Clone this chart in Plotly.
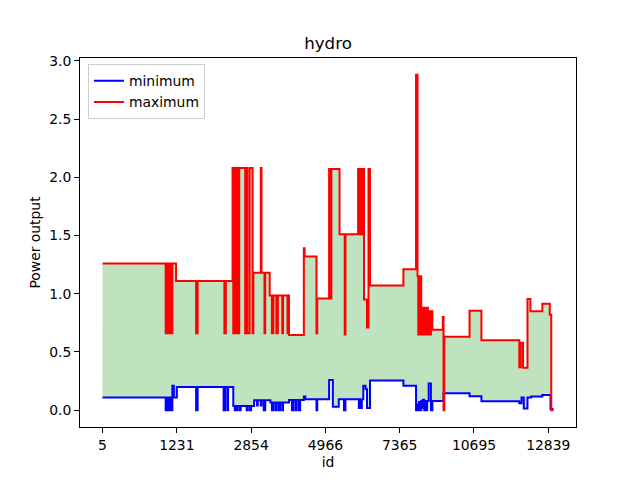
import plotly.graph_objects as go

# Row positions (index in the id-sorted table) where each step starts, and step values
max_rows = [0, 85, 86, 87, 89, 90, 92, 93, 94, 99, 126, 128, 164, 166,
            175, 176, 178, 179, 180, 182, 184, 192, 194, 195, 198, 202, 203,
            213, 214, 218, 219, 225, 228, 230, 234, 236, 242, 243, 249, 250, 251,
            271, 272, 288, 289, 305, 307, 308, 319, 326, 327,
            344, 346, 347, 349, 350, 352, 356, 358, 360, 405, 422, 424,
            425, 426, 427, 428, 429, 431, 432, 433, 435, 436, 438, 439, 441, 442, 444,
            458, 459, 460, 494, 510, 561, 563, 566, 572, 576, 592, 602, 604, 607]
max_vals = [1.26, 0.66, 1.26, 0.66, 1.26, 0.66, 1.26, 0.66, 1.26, 1.11, 0.66, 1.11, 0.66, 1.11,
            2.08, 0.66, 2.08, 0.66, 2.08, 0.66, 2.08, 0.66, 2.08, 0.66, 2.08, 0.66, 1.18,
            2.08, 1.18, 0.66, 1.18, 0.985, 0.66, 0.985, 0.66, 0.985, 0.66, 0.985, 0.66, 0.985, 0.645,
            1.39, 1.32, 0.66, 0.96, 2.07, 0.96, 2.07, 1.51, 0.65, 1.51,
            2.07, 1.51, 2.07, 1.51, 2.07, 0.95, 0.71, 2.07, 1.07, 1.21, 2.88, 1.15,
            0.65, 1.15, 0.65, 1.15, 0.65, 0.88, 0.65, 0.88, 0.65, 0.88, 0.65, 0.85, 0.65, 0.85, 0.69,
            0.80, 0.0, 0.63, 0.855, 0.60, 0.37, 0.58, 0.365, 0.955, 0.85, 0.915, 0.82, 0.0, 0.0]

min_rows = [0, 85, 86, 87, 89, 90, 92, 93, 94, 96, 100, 126, 128, 163, 165, 168, 169,
            176, 178, 179, 181, 182, 185, 186, 194, 195, 198, 200,
            204, 208, 209, 213, 214, 217, 219, 226, 228, 230, 233, 234, 237, 239, 242, 243,
            251, 255, 257, 260, 261, 264, 266, 271, 273, 288, 289, 305, 310, 318, 325, 327,
            345, 346, 348, 349, 351, 354, 356, 360, 405, 422, 423, 425, 426, 427, 429, 430,
            431, 433, 434, 435, 437, 439, 442, 444, 459, 494, 510, 561, 564, 567, 572, 577,
            592, 603, 607]
min_vals = [0.11, 0.0, 0.11, 0.0, 0.11, 0.0, 0.11, 0.0, 0.21, 0.11, 0.20, 0.0, 0.20, 0.0, 0.20, 0.0, 0.20,
            0.037, 0.0, 0.037, 0.0, 0.037, 0.0, 0.037, 0.0, 0.037, 0.0, 0.037,
            0.085, 0.04, 0.085, 0.04, 0.085, 0.0, 0.085, 0.066, 0.0, 0.066, 0.0, 0.066, 0.0, 0.066, 0.0, 0.066,
            0.088, 0.0, 0.088, 0.0, 0.088, 0.0, 0.088, 0.117, 0.095, 0.0, 0.095, 0.26, 0.03, 0.095, 0.0, 0.095,
            0.02, 0.095, 0.02, 0.095, 0.21, 0.18, 0.02, 0.255, 0.21, 0.0, 0.05, 0.0, 0.07, 0.0, 0.08, 0.02,
            0.09, 0.0, 0.08, 0.0, 0.08, 0.23, 0.0, 0.08, 0.145, 0.12, 0.077, 0.06, 0.11, 0.015, 0.11, 0.117,
            0.13, 0.01, 0.01]

tick_rows = [0, 100, 200, 300, 400, 500, 600]
tick_ids = ["5", "1231", "2854", "4966", "7365", "10695", "12839"]

FONT = "DejaVu Sans"
fig = go.Figure()

# fill between min and max
fig.add_trace(go.Scatter(x=min_rows, y=min_vals, mode="lines", line=dict(width=0, shape="hv"),
                         showlegend=False, hoverinfo="skip"))
fig.add_trace(go.Scatter(x=max_rows, y=max_vals, mode="lines", line=dict(width=0, shape="hv"),
                         fill="tonexty", fillcolor="rgba(44,160,44,0.3)",
                         showlegend=False, hoverinfo="skip"))
# lines
fig.add_trace(go.Scatter(x=min_rows, y=min_vals, mode="lines", name="minimum",
                         line=dict(color="#0000ff", width=2, shape="hv")))
fig.add_trace(go.Scatter(x=max_rows, y=max_vals, mode="lines", name="maximum",
                         line=dict(color="#ff0000", width=2, shape="hv")))

axis_common = dict(showline=True, mirror=True, linecolor="black", linewidth=1,
                   ticks="outside", ticklen=5, tickwidth=1, tickcolor="black",
                   showgrid=False, zeroline=False, automargin=False,
                   tickfont=dict(family=FONT, size=13.9, color="black"))

fig.update_layout(
    width=640, height=480,
    margin=dict(l=80, r=64, t=58, b=53),
    paper_bgcolor="white", plot_bgcolor="white",
    font=dict(family=FONT, size=13.9, color="black"),
    title=dict(text="hydro", x=0.5, xref="paper", xanchor="center",
               y=1 - 43 / 480, yanchor="middle",
               font=dict(family=FONT, size=16.7, color="black")),
    xaxis=dict(range=[-30.3, 637.3], tickvals=tick_rows, ticktext=tick_ids,
               title=dict(text="id", standoff=5, font=dict(family=FONT, size=13.9)),
               **axis_common),
    yaxis=dict(range=[-0.144, 3.024], tickvals=[0, 0.5, 1, 1.5, 2, 2.5, 3],
               tickformat=".1f",
               title=dict(text="Power output", standoff=5, font=dict(family=FONT, size=13.9)),
               **axis_common),
    legend=dict(x=0.016, y=0.983, xanchor="left", yanchor="top", traceorder="normal",
                bgcolor="rgba(255,255,255,0.8)", bordercolor="#cccccc", borderwidth=1,
                font=dict(family=FONT, size=13.9, color="black"),
                itemwidth=30, tracegroupgap=0),
    showlegend=True,
)

fig.write_html("out.html", config={"displayModeBar": False},
               post_script="document.body.style.margin='0';")
